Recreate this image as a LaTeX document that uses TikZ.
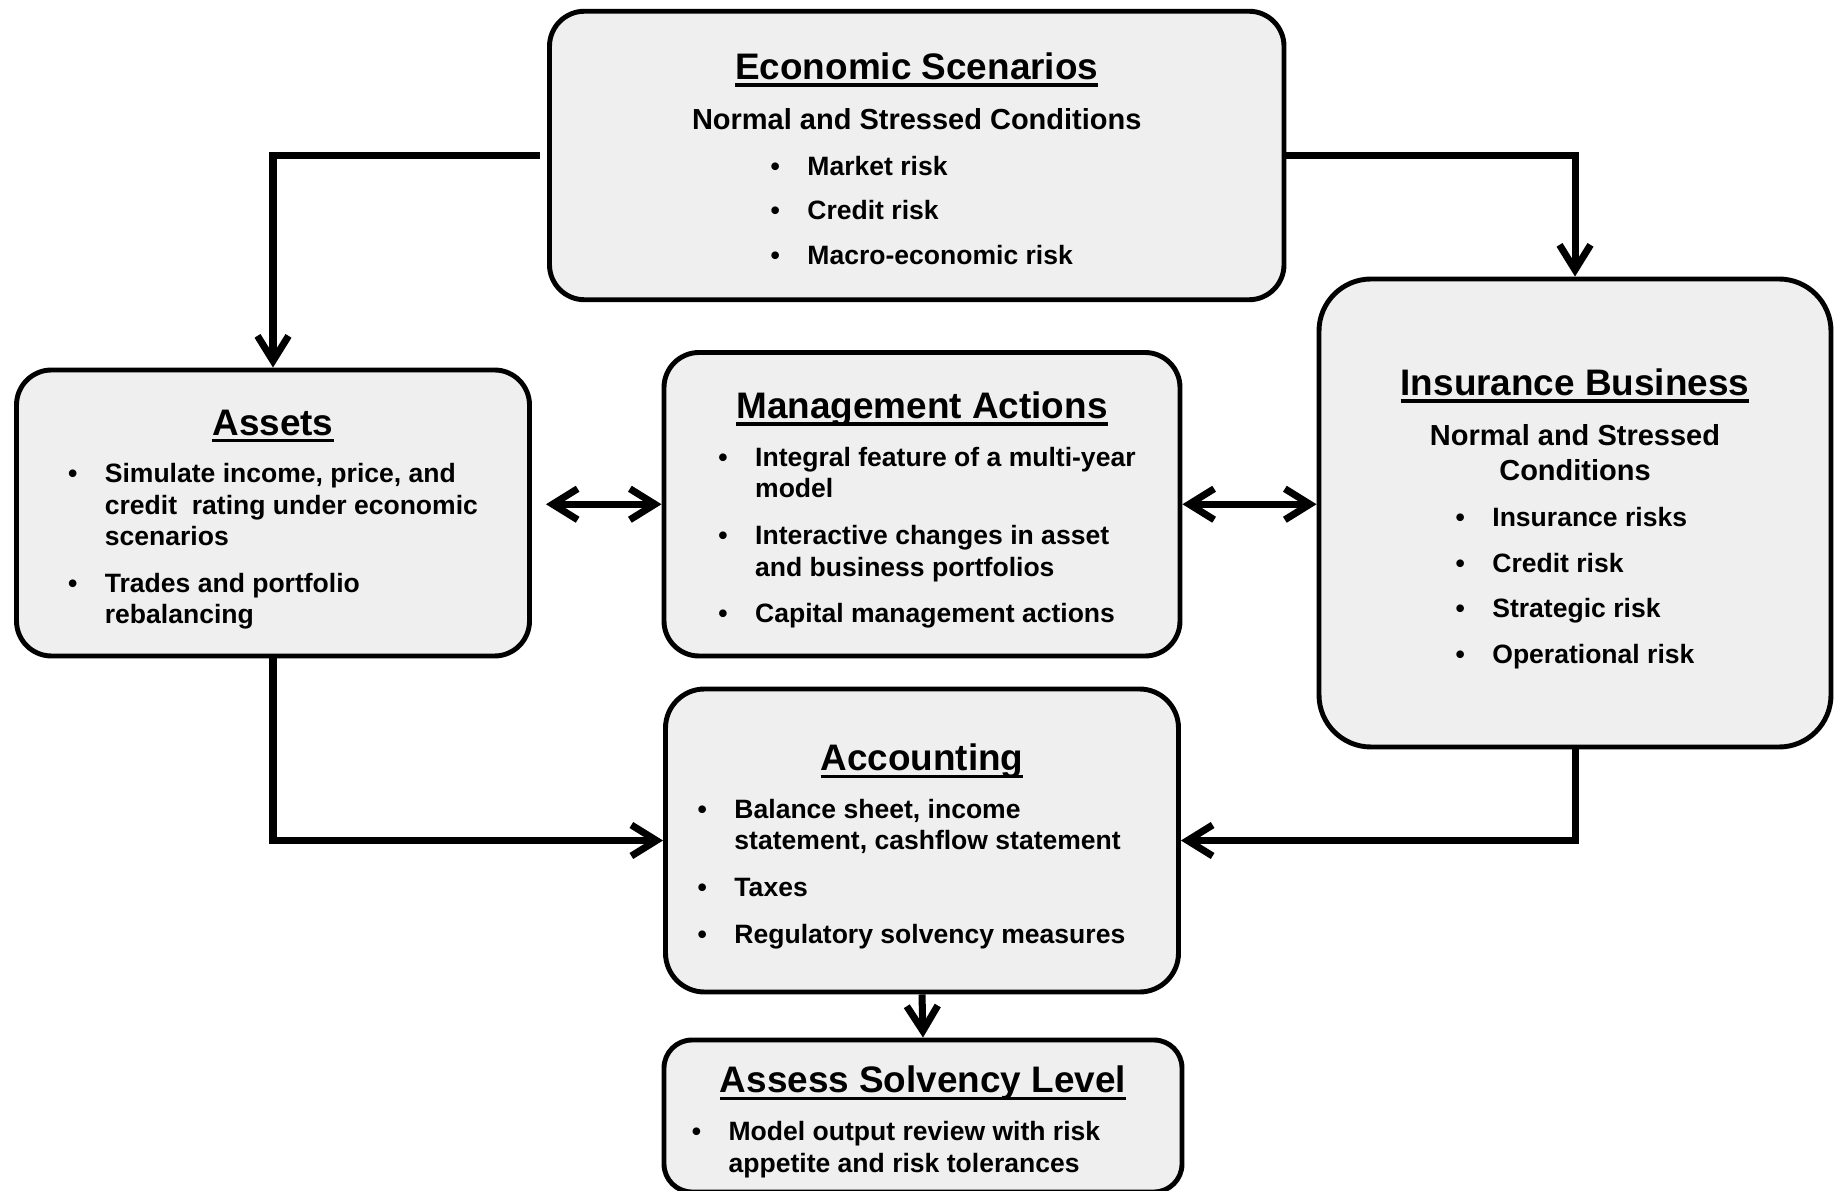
\documentclass[tikz,border=0pt]{standalone}
\usepackage{fontspec}
\setmainfont{Liberation Sans}
\definecolor{PanelGrey}{HTML}{EFEFEF}
\definecolor{InkBlack}{HTML}{000000}
\usetikzlibrary{arrows.meta, positioning}

% text sizes
\newcommand{\bodyfont}{\fontsize{15.1}{18}\selectfont\bfseries}
\newcommand{\subfont}{\fontsize{16.5}{20}\selectfont\bfseries}
\newcommand{\titlefont}{\fontsize{21}{25}\selectfont\bfseries}
% underlined box heading
\newcommand{\boxtitle}[1]{{\titlefont\rule{0pt}{1.15em}\setbox0\hbox{#1}\rlap{\rule[-0.2em]{\wd0}{0.1em}}\box0}}

\tikzset{
    % rounded grey panels
    panel/.style={
        rectangle,
        rounded corners=0.7cm,
        draw=InkBlack,
        fill=PanelGrey,
        line width=2.8pt,
        align=center,
        inner sep=0pt,
        font=\bodyfont
    },
    arrow style/.style={
        -{Straight Barb[length=0.5cm, width=0.62cm]},
        line width=4pt,
        InkBlack
    },
    biarrow style/.style={
        {Straight Barb[length=0.5cm, width=0.62cm]}-{Straight Barb[length=0.5cm, width=0.62cm]},
        line width=4pt,
        InkBlack
    }
}

\begin{document}
\begin{tikzpicture}
    \useasboundingbox (0,0) rectangle (36.74,23.8);

    % Scenario generator
    \node[panel, minimum width=14.69cm, minimum height=5.77cm] (econ) at (18.335, 20.69) {
        \boxtitle{Economic Scenarios}\\[10.5pt]
        {\subfont Normal and Stressed Conditions}\\[8pt]
        \hspace*{0.2cm}\begin{tabular}[t]{@{}l@{\hspace{0.55cm}}l@{}}
            \textbullet & Market risk\\[7.5pt]
            \textbullet & Credit risk\\[7.5pt]
            \textbullet & Macro-economic risk
        \end{tabular}
    };

    % Middle row
    \node[panel, minimum width=10.26cm, minimum height=5.72cm] (assets) at (5.46, 13.54) {
        \boxtitle{Assets}\\[9pt]
        \begin{tabular}[t]{@{}l@{\hspace{0.55cm}}l@{}}
            \textbullet & Simulate income, price, and\\
                        & credit~ rating under economic\\
                        & scenarios\\[8.5pt]
            \textbullet & Trades and portfolio\\
                        & rebalancing
        \end{tabular}
    };

    \node[panel, minimum width=10.32cm, minimum height=6.07cm] (mgmt) at (18.44, 13.715) {
        \boxtitle{Management Actions}\\[9pt]
        \hspace*{0.2cm}\begin{tabular}[t]{@{}l@{\hspace{0.55cm}}l@{}}
            \textbullet & Integral feature of a multi-year\\
                        & model\\[8.5pt]
            \textbullet & Interactive changes in asset\\
                        & and business portfolios\\[8.5pt]
            \textbullet & Capital management actions
        \end{tabular}
    };

    \node[panel, rounded corners=1.04cm, minimum width=10.24cm, minimum height=9.36cm] (ins) at (31.5, 13.54) {
        \boxtitle{Insurance Business}\\[10.5pt]
        {\subfont Normal and Stressed}\\[2pt]
        {\subfont Conditions}\\[8pt]
        \begin{tabular}[t]{@{}l@{\hspace{0.55cm}}l@{}}
            \textbullet & Insurance risks\\[8pt]
            \textbullet & Credit risk\\[8pt]
            \textbullet & Strategic risk\\[8pt]
            \textbullet & Operational risk
        \end{tabular}
    };

    % Reporting
    \node[panel, rounded corners=0.78cm, minimum width=10.26cm, minimum height=6.06cm] (acct) at (18.44, 6.99) {
        \boxtitle{Accounting}\\[9pt]
        \begin{tabular}[t]{@{}l@{\hspace{0.55cm}}l@{}}
            \textbullet & Balance sheet, income\\
                        & statement, cashflow statement\\[8.5pt]
            \textbullet & Taxes\\[8.5pt]
            \textbullet & Regulatory solvency measures
        \end{tabular}\hspace*{0.42cm}
    };

    \node[panel, rounded corners=0.56cm, minimum width=10.36cm, minimum height=3.04cm] (assess) at (18.46, 1.48) {
        \boxtitle{Assess Solvency Level}\\[9pt]
        \begin{tabular}[t]{@{}l@{\hspace{0.55cm}}l@{}}
            \textbullet & Model output review with risk\\
                        & appetite and risk tolerances
        \end{tabular}\hspace*{1.08cm}
    };

    % Arrows
    \draw[arrow style, shorten <=0.14cm] (econ.west) -| (assets.north);
    \draw[arrow style] (econ.east) -| (ins.north);
    \draw[biarrow style, shorten <=0.28cm] (mgmt.west -| assets.east) -- (mgmt.west);
    \draw[biarrow style] (mgmt.east) -- (mgmt.east -| ins.west);
    \draw[arrow style] (assets.south) |- (acct.west);
    \draw[arrow style] (ins.south) |- (acct.east);
    \draw[arrow style] (acct.south) -- (assess.north);
\end{tikzpicture}
\end{document}
